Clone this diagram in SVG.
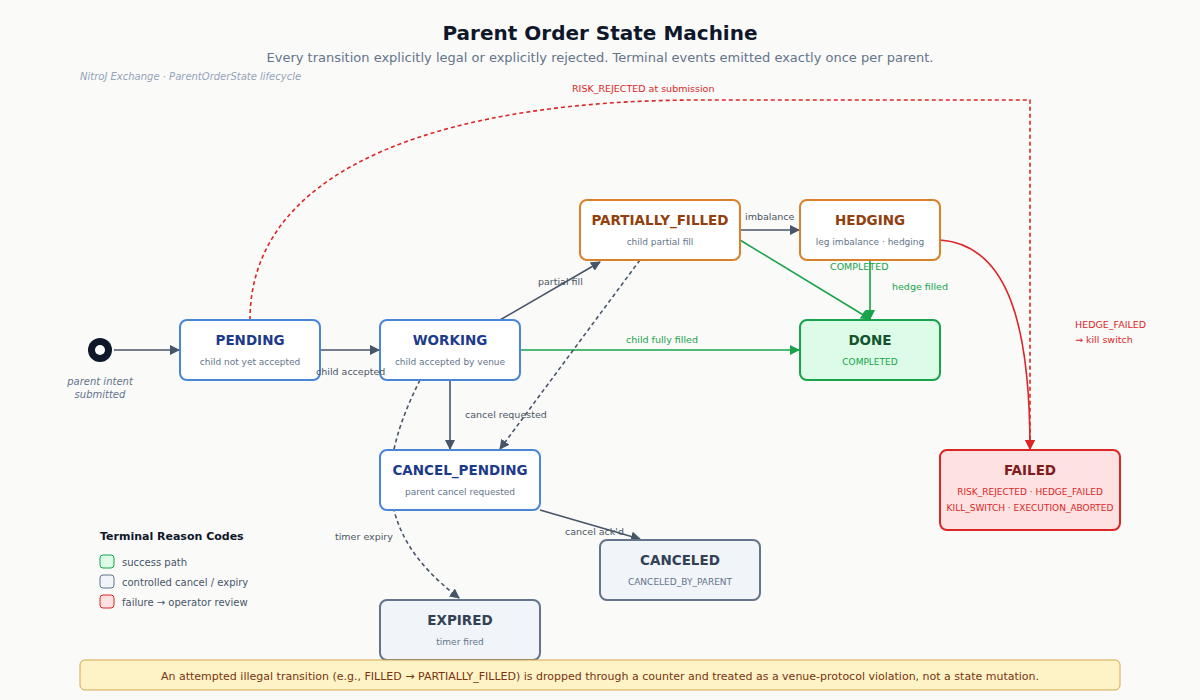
<svg xmlns="http://www.w3.org/2000/svg" width="1200" height="700" viewBox="0 0 1200 700">
<style>
text{font-family:"DejaVu Sans",sans-serif}
.t{font-size:13.5px;font-weight:bold;text-anchor:middle}
.s{font-size:9px;text-anchor:middle}
.lb{font-size:9.5px;fill:#4b5563}
.g{fill:#16a34a}.r{fill:#dc2626}
.blue{fill:#fff;stroke:#4a86d8;stroke-width:2}
.org{fill:#fff;stroke:#d9822b;stroke-width:2}
.grn{fill:#dcfce7;stroke:#16a34a;stroke-width:2}
.red{fill:#fee2e2;stroke:#dc2626;stroke-width:2}
.gry{fill:#f1f5f9;stroke:#64748b;stroke-width:2}
.e{fill:none;stroke:#475569;stroke-width:1.6}
.eg{fill:none;stroke:#16a34a;stroke-width:1.6}
.er{fill:none;stroke:#dc2626;stroke-width:1.6}
.d{stroke-dasharray:4 3}
</style>
<defs>
<marker id="a" markerWidth="10" markerHeight="10" refX="9" refY="5" orient="auto" markerUnits="userSpaceOnUse"><path d="M0,0L10,5L0,10z" fill="#475569"/></marker>
<marker id="ag" markerWidth="10" markerHeight="10" refX="9" refY="5" orient="auto" markerUnits="userSpaceOnUse"><path d="M0,0L10,5L0,10z" fill="#16a34a"/></marker>
<marker id="ar" markerWidth="10" markerHeight="10" refX="9" refY="5" orient="auto" markerUnits="userSpaceOnUse"><path d="M0,0L10,5L0,10z" fill="#dc2626"/></marker>
</defs>
<rect width="1200" height="700" fill="#fafaf9"/>
<text x="600" y="40" text-anchor="middle" font-size="20" font-weight="bold" fill="#0f172a">Parent Order State Machine</text>
<text x="600" y="62" text-anchor="middle" font-size="13" fill="#64748b">Every transition explicitly legal or explicitly rejected. Terminal events emitted exactly once per parent.</text>
<text x="80" y="80" font-size="10" font-style="italic" fill="#94a3b8">NitroJ Exchange · ParentOrderState lifecycle</text>

<g id="connectors">
<line class="e" x1="114" y1="350" x2="179" y2="350" marker-end="url(#a)"/>
<line class="e" x1="320" y1="350" x2="379" y2="350" marker-end="url(#a)"/>
<line class="e" x1="500" y1="320" x2="600" y2="262" marker-end="url(#a)"/>
<line class="eg" x1="520" y1="350" x2="799" y2="350" marker-end="url(#ag)"/>
<line class="e" x1="740" y1="230" x2="799" y2="230" marker-end="url(#a)"/>
<line class="eg" x1="740" y1="240" x2="870" y2="319" marker-end="url(#ag)"/>
<line class="eg" x1="870" y1="260" x2="870" y2="319" marker-end="url(#ag)"/>
<path class="er" d="M940,240 C1010,245 1030,330 1030,449" marker-end="url(#ar)"/>
<path class="er d" d="M250,320 C250,160 460,100 700,100 L1030,100 L1030,449" marker-end="url(#ar)"/>
<line class="e" x1="450" y1="380" x2="450" y2="449" marker-end="url(#a)"/>
<line class="e d" x1="640" y1="260" x2="500" y2="449" marker-end="url(#a)"/>
<path class="e d" d="M420,380 C380,460 370,530 459,598" marker-end="url(#a)"/>
<line class="e" x1="540" y1="510" x2="640" y2="539" marker-end="url(#a)"/>
</g>

<g id="start"><circle cx="100" cy="350" r="12" fill="#0f172a"/><circle cx="100" cy="350" r="5" fill="#fff"/>
<text x="100" y="385" text-anchor="middle" font-size="10" font-style="italic" fill="#64748b">parent intent</text>
<text x="100" y="398" text-anchor="middle" font-size="10" font-style="italic" fill="#64748b">submitted</text></g>

<g id="pending"><rect class="blue" x="180" y="320" width="140" height="60" rx="7"/><text class="t" x="250" y="345" fill="#1e3a8a">PENDING</text><text class="s" x="250" y="365" fill="#64748b">child not yet accepted</text></g>
<g id="working"><rect class="blue" x="380" y="320" width="140" height="60" rx="7"/><text class="t" x="450" y="345" fill="#1e3a8a">WORKING</text><text class="s" x="450" y="365" fill="#64748b">child accepted by venue</text></g>
<g id="partially_filled"><rect class="org" x="580" y="200" width="160" height="60" rx="7"/><text class="t" x="660" y="225" fill="#92400e">PARTIALLY_FILLED</text><text class="s" x="660" y="245" fill="#64748b">child partial fill</text></g>
<g id="hedging"><rect class="org" x="800" y="200" width="140" height="60" rx="7"/><text class="t" x="870" y="225" fill="#92400e">HEDGING</text><text class="s" x="870" y="245" fill="#64748b">leg imbalance · hedging</text></g>
<g id="done"><rect class="grn" x="800" y="320" width="140" height="60" rx="7"/><text class="t" x="870" y="345" fill="#14532d">DONE</text><text class="s g" x="870" y="365">COMPLETED</text></g>
<g id="failed"><rect class="red" x="940" y="450" width="180" height="80" rx="7"/><text class="t" x="1030" y="475" fill="#7f1d1d">FAILED</text><text class="s r" x="1030" y="495">RISK_REJECTED · HEDGE_FAILED</text><text class="s r" x="1030" y="511">KILL_SWITCH · EXECUTION_ABORTED</text></g>
<g id="cancel_pending"><rect class="blue" x="380" y="450" width="160" height="60" rx="7"/><text class="t" x="460" y="475" fill="#1e3a8a">CANCEL_PENDING</text><text class="s" x="460" y="495" fill="#64748b">parent cancel requested</text></g>
<g id="canceled"><rect class="gry" x="600" y="540" width="160" height="60" rx="7"/><text class="t" x="680" y="565" fill="#334155">CANCELED</text><text class="s" x="680" y="585" fill="#64748b">CANCELED_BY_PARENT</text></g>
<g id="expired"><rect class="gry" x="380" y="600" width="160" height="60" rx="7"/><text class="t" x="460" y="625" fill="#334155">EXPIRED</text><text class="s" x="460" y="645" fill="#64748b">timer fired</text></g>

<g id="connector-labels">
<text class="lb" x="316" y="375">child accepted</text>
<text class="lb" x="538" y="285">partial fill</text>
<text class="lb g" x="626" y="343">child fully filled</text>
<text class="lb" x="745" y="220">imbalance</text>
<text class="lb g" x="830" y="270">COMPLETED</text>
<text class="lb g" x="892" y="290">hedge filled</text>
<text class="lb r" x="1075" y="328">HEDGE_FAILED</text>
<text class="lb r" x="1075" y="343">→ kill switch</text>
<text class="lb r" x="572" y="92">RISK_REJECTED at submission</text>
<text class="lb" x="465" y="418">cancel requested</text>
<text class="lb" x="335" y="540">timer expiry</text>
<text class="lb" x="565" y="535">cancel ack'd</text>
</g>

<g id="legend">
<text x="100" y="540" font-size="11" font-weight="bold" fill="#0f172a">Terminal Reason Codes</text>
<rect x="100" y="555" width="14" height="13" rx="3" fill="#dcfce7" stroke="#16a34a"/><text x="122" y="566" font-size="10" fill="#475569">success path</text>
<rect x="100" y="575" width="14" height="13" rx="3" fill="#f1f5f9" stroke="#64748b"/><text x="122" y="586" font-size="10" fill="#475569">controlled cancel / expiry</text>
<rect x="100" y="595" width="14" height="13" rx="3" fill="#fee2e2" stroke="#dc2626"/><text x="122" y="606" font-size="10" fill="#475569">failure → operator review</text>
</g>
<g id="footer"><rect x="80" y="660" width="1040" height="30" rx="5" fill="#fef3c7" stroke="#d4a64a"/>
<text x="600" y="680" text-anchor="middle" font-size="11" fill="#78350f">An attempted illegal transition (e.g., FILLED → PARTIALLY_FILLED) is dropped through a counter and treated as a venue-protocol violation, not a state mutation.</text></g>
</svg>
